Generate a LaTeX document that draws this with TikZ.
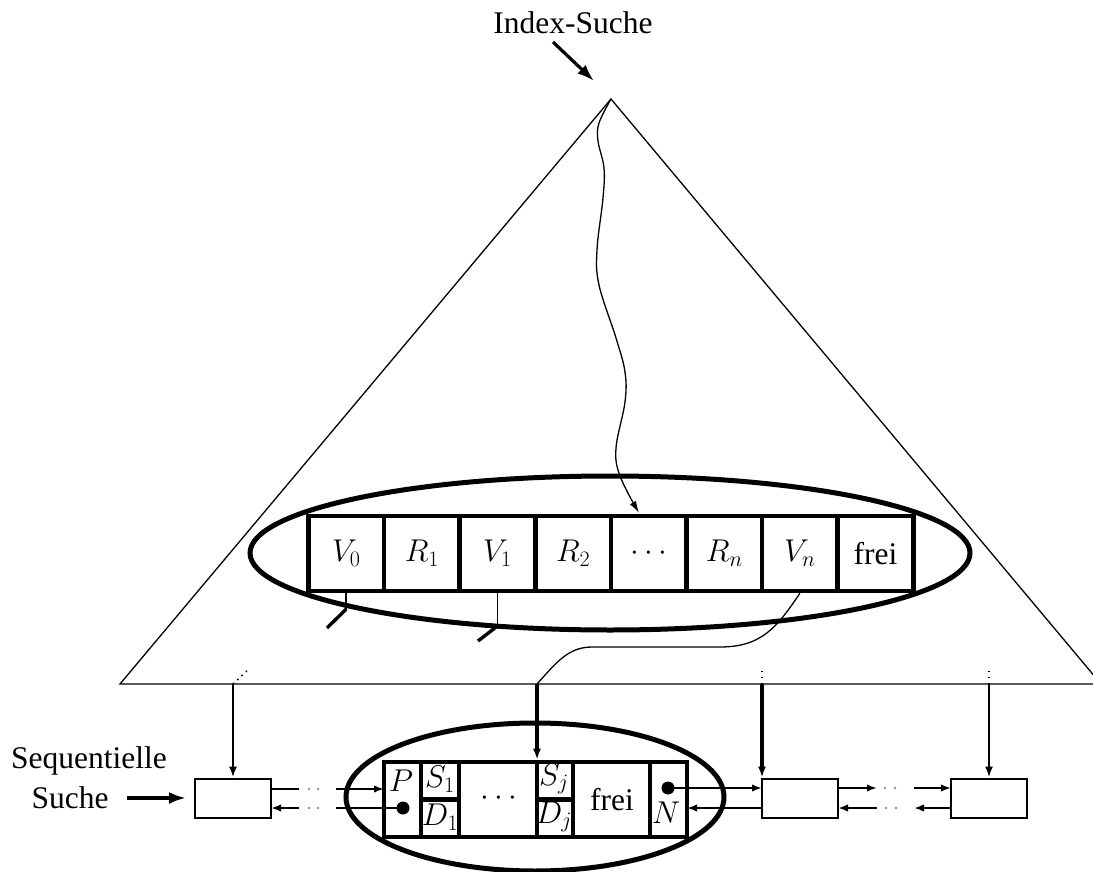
\RequirePackage{fix-cm}
\documentclass[tikz,border=0pt]{standalone}
\usepackage[no-math]{fontspec}
\setmainfont{Liberation Serif}
\usetikzlibrary{arrows.meta}
\begin{document}
\begin{tikzpicture}[x=1pt,y=-1pt,
  font=\fontsize{31.5}{37}\selectfont,
  tri/.style={line width=1.3pt},
  thinline/.style={line width=1.3pt},
  ovalline/.style={line width=5pt},
  cell/.style={draw, line width=4.6pt, minimum width=75.6pt, minimum height=75pt, inner sep=0pt},
  bcell/.style={draw, line width=4.6pt, minimum height=75pt, inner sep=0pt},
  hcell/.style={draw, line width=4.6pt, minimum height=37.5pt, inner sep=0pt},
  smallbox/.style={draw, line width=2.8pt, minimum width=76pt, minimum height=39pt, inner sep=0pt},
  lbl/.style={inner sep=0pt},
  ptrdot/.style={circle, fill, inner sep=0pt, minimum size=13pt},
  bigarrow/.style={line width=3.2pt, -{Latex[length=17pt,width=12pt]}},
  harrow/.style={line width=2.8pt, -{Latex[length=10pt,width=7.5pt]}},
  hline/.style={line width=2.8pt},
  varrowthin/.style={line width=2.2pt, -{Latex[length=11pt,width=8pt]}},
  varrowthick/.style={line width=3.2pt, -{Latex[length=11pt,width=8pt]}},
  curvearrow/.style={line width=1.3pt, -{Latex[length=12pt,width=7pt]}},
  stubthin/.style={line width=1.8pt},
  stubthick/.style={line width=3.4pt},
  dotline/.style={line width=1.6pt, dash pattern=on 1.4pt off 4.5pt},
  gapdot/.style={fill=black!45}
]
\useasboundingbox (0,0) rectangle (1093,872);
\clip (0,0) rectangle (1093,872);

% ---------- triangle (index tree) ----------
\coordinate (apex) at (611,99);
\coordinate (tl) at (120,684);
\coordinate (tr) at (1101,684);
\draw[tri] (tl) -- (apex) -- (tr) -- cycle;

% ---------- Index-Suche ----------
\node[anchor=base] (idx) at (573,34) {Index-Suche};
\coordinate (ia) at (553,42);
\coordinate (ib) at (594,81);
\draw[bigarrow] (ia) -- (ib);

% ---------- upper node (ellipse with cells) ----------
\draw[ovalline] (610,553) ellipse [x radius=360pt, y radius=77pt];
\node[cell] (v0) at (346.3,553.5) {$V_0$};
\node[cell] (r1) at (421.9,553.5) {$R_1$};
\node[cell] (v1) at (497.5,553.5) {$V_1$};
\node[cell] (r2) at (573.1,553.5) {$R_2$};
\node[cell] (dd) at (648.7,553.5) {$\cdots$};
\node[cell] (rn) at (724.3,553.5) {$R_n$};
\node[cell] (vn) at (799.9,553.5) {$V_n$};
\node[cell] (fr) at (875.5,553.5) {frei};

% curvy search path from the root
\coordinate (ddtop) at (639,513);
\draw[curvearrow] plot[smooth, tension=0.6] coordinates {(apex) (599,123) (598,141) (604,168) (603,198) (597,250) (599,285) (616,338) (625,372) (625,402) (616,448) (620,476) (ddtop)};

% stubs below V0 and V1
\coordinate (s0) at (346.3,609);
\coordinate (s0e) at (327,628);
\draw[stubthin] (v0.south) -- (s0);
\draw[stubthick] (s0) -- (s0e);
\coordinate (s1) at (497.5,626);
\coordinate (s1e) at (478,641);
\draw[stubthin] (v1.south) -- (s1);
\draw[stubthick] (s1) -- (s1e);

% curve from V_n down to the leaf level
\coordinate (b2) at (537,684);
\draw[thinline] (vn.south) .. controls (777,627) and (762,647) .. (720,647) -- (592,647) .. controls (568,647) and (556,663) .. (b2);

% ---------- leaf level ----------
\coordinate (b1) at (233,684);
\coordinate (b3) at (762,684);
\coordinate (b4) at (989,684);
\draw[dotline] (b1) -- ++(17,-16);
\draw[dotline] (b3) -- ++(0,-16);
\draw[dotline] (b4) -- ++(0,-16);

% leaf boxes
\node[smallbox] (lb) at (233,798.5) {};
\node[smallbox] (rb1) at (800,798.5) {};
\node[smallbox] (rb2) at (989,798.5) {};

% central leaf (ellipse with cells)
\draw[ovalline] (535,797) ellipse [x radius=189pt, y radius=74pt];
\node[bcell, minimum width=37pt] (pc) at (402.5,799.5) {};
\node[hcell, minimum width=38pt] (s1c) at (440,780.75) {};
\node[hcell, minimum width=38pt] (d1c) at (440,818.25) {};
\node[bcell, minimum width=78pt] (mc) at (498,799.5) {};
\node[hcell, minimum width=36pt] (sjc) at (555,780.75) {};
\node[hcell, minimum width=36pt] (djc) at (555,818.25) {};
\node[bcell, minimum width=77pt] (fc) at (611.5,799.5) {};
\node[bcell, minimum width=37pt] (nc) at (668.5,799.5) {};

\node[lbl] (plbl) at (401,781) {$P$};
\node[ptrdot] (pdot) at (403,808) {};
\node[lbl] (s1l) at (440,779) {$S_1$};
\node[lbl] (d1l) at (440,817) {$D_1$};
\node[lbl] (ml) at (499,798) {$\cdots$};
\node[lbl] (sjl) at (554,779) {$S_j$};
\node[lbl] (djl) at (554,817) {$D_j$};
\node[lbl] (fl) at (612,800) {frei};
\node[ptrdot] (ndot) at (668,788) {};
\node[lbl] (nl) at (666,813) {$N$};

% vertical arrows from the index into the leaves
\draw[varrowthin] (b1) -- (lb.north);
\draw[varrowthick] (b2) -- (b2 |- pc.north);
\draw[varrowthick] (b3) -- (b3 |- rb1.north);
\draw[varrowthin] (b4) -- (rb2.north);

% Sequentielle Suche
\node[anchor=base] (seq) at (89,768) {Sequentielle};
\node[anchor=base] (such) at (70,808) {Suche};
\coordinate (sa) at (127,798);
\coordinate (sb) at (186,798);
\draw[bigarrow] (sa) -- (sb);

% chain: left box <-> central leaf
\coordinate (lu1) at (271,789);
\coordinate (lu2) at (299,789);
\coordinate (lu3) at (336,789);
\coordinate (lu4) at (384,789);
\draw[hline] (lu1) -- (lu2);
\draw[harrow] (lu3) -- (lu4);
\coordinate (ll2) at (299,808);
\coordinate (ll3) at (336,808);
\coordinate (ll4) at (271,808);
\draw[hline] (pdot.center) -- (ll3);
\draw[harrow] (ll2) -- (ll4);
\fill[gapdot] (309,789) circle (1.4pt) (318,789) circle (1.4pt);
\fill[gapdot] (309,808) circle (1.4pt) (318,808) circle (1.4pt);

% chain: central leaf <-> right box 1
\coordinate (nu) at (762,788);
\coordinate (nl1) at (762,808);
\coordinate (nl2) at (687,808);
\draw[harrow] (ndot.center) -- (nu);
\draw[harrow] (nl1) -- (nl2);

% chain: right box 1 <-> right box 2
\coordinate (ru1) at (838,788);
\coordinate (ru2) at (877,788);
\coordinate (ru3) at (914,788);
\coordinate (ru4) at (951,788);
\draw[harrow] (ru1) -- (ru2);
\draw[harrow] (ru3) -- (ru4);
\coordinate (rl1) at (951,808);
\coordinate (rl2) at (914,808);
\coordinate (rl3) at (877,808);
\coordinate (rl4) at (838,808);
\draw[harrow] (rl1) -- (rl2);
\draw[harrow] (rl3) -- (rl4);
\fill[gapdot] (885,788) circle (1.4pt) (895,788) circle (1.4pt);
\fill[gapdot] (886,808) circle (1.4pt) (896,808) circle (1.4pt);
\end{tikzpicture}
\end{document}
